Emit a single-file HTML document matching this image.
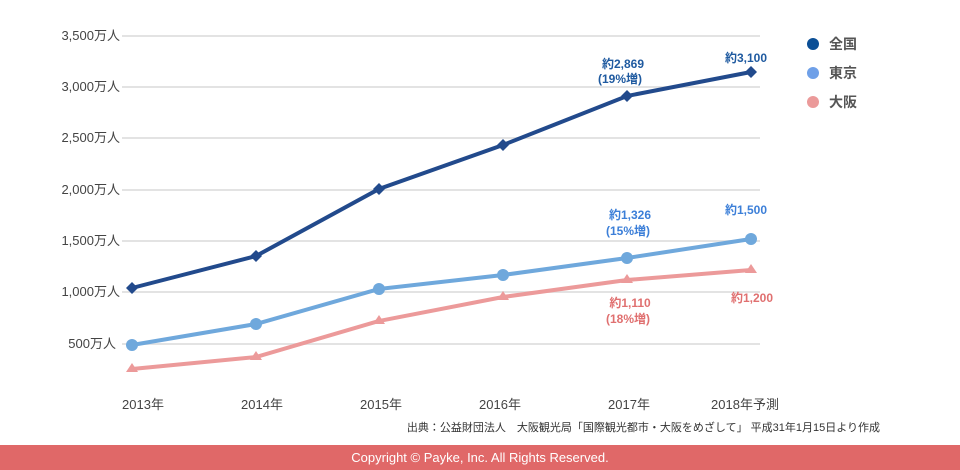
<!DOCTYPE html>
<html><head><meta charset="utf-8"><style>
html,body{margin:0;padding:0;background:#fff;}
body{width:960px;height:470px;position:relative;overflow:hidden;font-family:"Liberation Sans","Noto Sans CJK JP",sans-serif;}
</style></head><body>
<svg width="960" height="470" viewBox="0 0 960 470" style="position:absolute;left:0;top:0" font-family="Liberation Sans, Noto Sans CJK JP, sans-serif">
<g stroke="#e3e3e3" stroke-width="2">
<line x1="122" y1="36" x2="760" y2="36"/><line x1="122" y1="87" x2="760" y2="87"/><line x1="122" y1="138" x2="760" y2="138"/><line x1="122" y1="190" x2="760" y2="190"/><line x1="122" y1="241" x2="760" y2="241"/><line x1="122" y1="292" x2="760" y2="292"/><line x1="122" y1="344" x2="760" y2="344"/>
</g>
<g font-size="13" fill="#444" text-anchor="end">
<text x="120" y="40">3,500万人</text><text x="120" y="91">3,000万人</text><text x="120" y="142">2,500万人</text><text x="120" y="194">2,000万人</text><text x="120" y="245">1,500万人</text><text x="120" y="296">1,000万人</text><text x="116" y="348">500万人</text>
</g>
<g font-size="13" fill="#444" text-anchor="middle">
<text x="143" y="409">2013年</text><text x="262" y="409">2014年</text><text x="381" y="409">2015年</text><text x="500" y="409">2016年</text><text x="629" y="409">2017年</text><text x="745" y="409">2018年予測</text>
</g>
<polyline fill="none" stroke="#ec9a9a" stroke-width="4" points="132,369 256,357 379,321 503,297 627,280 751,270"/>
<g fill="#ec9a9a"><path d="M132,363 l6,9 h-12z"/><path d="M256,351 l6,9 h-12z"/><path d="M379,315 l6,9 h-12z"/><path d="M503,291 l6,9 h-12z"/><path d="M627,274 l6,9 h-12z"/><path d="M751,264 l6,9 h-12z"/></g>
<polyline fill="none" stroke="#6fa8dc" stroke-width="4" points="132,345 256,324 379,289 503,275 627,258 751,239"/>
<g fill="#6fa8dc"><circle cx="132" cy="345" r="6"/><circle cx="256" cy="324" r="6"/><circle cx="379" cy="289" r="6"/><circle cx="503" cy="275" r="6"/><circle cx="627" cy="258" r="6"/><circle cx="751" cy="239" r="6"/></g>
<polyline fill="none" stroke="#224a8c" stroke-width="4" points="132,288 256,256 379,189 503,145 627,96 751,72"/>
<g fill="#224a8c"><path d="M132,282 l6,6 -6,6 -6,-6z"/><path d="M256,250 l6,6 -6,6 -6,-6z"/><path d="M379,183 l6,6 -6,6 -6,-6z"/><path d="M503,139 l6,6 -6,6 -6,-6z"/><path d="M627,90 l6,6 -6,6 -6,-6z"/><path d="M751,66 l6,6 -6,6 -6,-6z"/></g>
<g font-size="12" font-weight="bold" text-anchor="middle">
<text x="623" y="68" fill="#1f5aa0">約2,869</text><text x="620" y="83" fill="#1f5aa0">(19%増)</text>
<text x="746" y="62" fill="#1f5aa0">約3,100</text>
<text x="630" y="219" fill="#3c7fd8">約1,326</text><text x="628" y="235" fill="#3c7fd8">(15%増)</text>
<text x="746" y="214" fill="#3c7fd8">約1,500</text>
<text x="630" y="307" fill="#e07070">約1,110</text><text x="628" y="323" fill="#e07070">(18%増)</text>
<text x="752" y="302" fill="#e07070">約1,200</text>
</g>
<circle cx="813" cy="44" r="6" fill="#0b4f96"/><circle cx="813" cy="73" r="6" fill="#6fa0e8"/><circle cx="813" cy="102" r="6" fill="#eb9a9a"/>
<g font-size="14" font-weight="bold" fill="#555"><text x="829" y="49">全国</text><text x="829" y="78">東京</text><text x="829" y="107">大阪</text></g>
<text x="880" y="431" font-size="11" fill="#333" text-anchor="end">出典：公益財団法人　大阪観光局「国際観光都市・大阪をめざして」 平成31年1月15日より作成</text>
<rect x="0" y="445" width="960" height="25" fill="#e06868"/>
<text x="480" y="462" font-size="13" fill="#fff" text-anchor="middle">Copyright © Payke, Inc. All Rights Reserved.</text>
</svg>
</body></html>
